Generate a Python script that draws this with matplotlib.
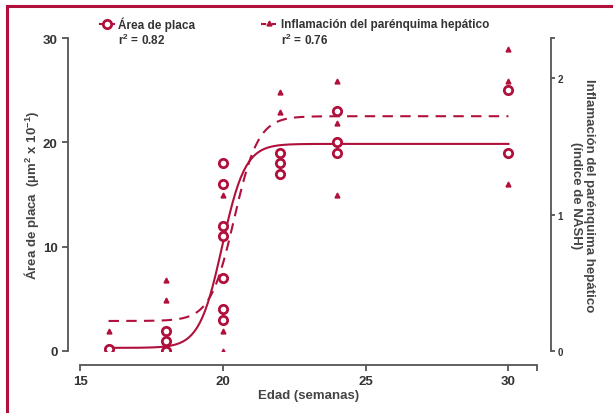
import matplotlib.pyplot as plt
import numpy as np
from matplotlib.lines import Line2D

# data
area_x = [16, 18, 18, 18, 20, 20, 20, 20, 20, 20, 20, 22, 22, 22, 24, 24, 24, 30, 30]
area_y = [0.2, 1.9, 1.0, 0.0, 18, 16, 12, 11, 7, 4, 3, 19, 18, 17, 23, 20, 19, 25, 19]

nash_x = [16, 18, 18, 20, 20, 20, 22, 22, 24, 24, 24, 30, 30, 30]
nash_y = [0.15, 0.52, 0.37, 1.14, 0.15, 0.0, 1.90, 1.75, 1.98, 1.67, 1.14, 2.21, 1.98, 1.22]

# sigmoid fits: bottom, top, x50, slope
area_fit = [0.3, 19.85, 19.98, 0.40]
nash_fit = [0.22, 1.72, 20.4, 0.42]

def sigmoid(x, bottom, top, x50, s):
    return bottom + (top - bottom) / (1 + np.exp((x50 - x) / s))

red = '#B0103C'
grey = '#555555'

plt.rcParams['font.family'] = 'Liberation Sans'
plt.rcParams['font.weight'] = 'bold'
plt.rcParams['axes.labelweight'] = 'bold'
plt.rcParams['mathtext.fontset'] = 'custom'
plt.rcParams['mathtext.rm'] = 'Liberation Sans:bold'
plt.rcParams['mathtext.it'] = 'Liberation Sans:bold'
plt.rcParams['mathtext.default'] = 'rm'

fig = plt.figure(figsize=(6.13, 4.14), dpi=100)
ax = fig.add_axes([80/613, 62/414, 457/613, 313/414])
ax2 = ax.twinx()

xs = np.linspace(16, 30, 300)
ax.plot(xs, sigmoid(xs, *area_fit), color=red, lw=1.5, zorder=3)
ax.plot(area_x, area_y, 'o', ms=6, mfc='white', mec=red, mew=2.0, zorder=4)

ax2.plot(xs, sigmoid(xs, *nash_fit), color=red, lw=1.5, ls=(0, (5, 3.5)))
ax2.plot(nash_x, nash_y, '^', ms=3.5, color=red, mec=red)

ax.set_xlim(15, 31)
ax.set_ylim(0, 30)
ax2.set_ylim(0, 313/136.5)

for a in (ax, ax2):
    for sp in a.spines.values():
        sp.set_color(grey)
        sp.set_linewidth(1.3)
    a.spines['top'].set_visible(False)
ax.spines['right'].set_visible(False)
ax2.spines['left'].set_visible(False)
ax2.spines['bottom'].set_visible(False)
ax.spines['left'].set_position(('outward', 8.6))
ax.spines['bottom'].set_position(('outward', 10))
ax2.spines['right'].set_position(('outward', 10))

ax.set_xticks([15, 20, 25, 30])
ax.set_xticks([31], minor=True)
ax.set_yticks([0, 10, 20, 30])
ax2.set_yticks([0, 1, 2])
ax2.set_yticks([313/136.5], minor=True)
ax.tick_params(axis='both', which='both', color=grey, width=1.3, length=4,
               labelsize=9.5, labelcolor='#333333')
ax.tick_params(axis='x', pad=3)
ax2.tick_params(axis='y', which='both', color=grey, width=1.3, length=3,
                labelsize=7, labelcolor='#333333', pad=2)

ax.set_xlabel('Edad (semanas)', fontsize=9.5, color='#444444', labelpad=2)
ax.set_ylabel('Área de placa  (µm$^2$ x 10$^{-1}$)', fontsize=9.5,
              color='#444444', labelpad=1.5)
ax2.set_ylabel('Inflamación del parénquima hepático\n(índice de NASH)',
               fontsize=9.5, color='#444444', rotation=270, labelpad=23,
               linespacing=1.1)

# legend drawn by hand
W, H = 613, 414
fig.add_artist(Line2D([100/W, 114/W], [1-25/H, 1-25/H], color=red, lw=1.5))
fig.add_artist(Line2D([107/W], [1-25/H], marker='o', ms=6, mfc='white',
                      mec=red, mew=2.0))
fig.text(118/W, 1-25/H, 'Área de placa', fontsize=8.5, color='#333333',
         va='center', ha='left')
fig.text(118/W, 1-40/H, 'r$^2$ = 0.82', fontsize=8.5, color='#333333',
         va='center', ha='left')
fig.add_artist(Line2D([261/W, 276/W], [1-25/H, 1-25/H], color=red, lw=1.5,
                      ls=(0, (2.5, 2.5))))
fig.add_artist(Line2D([268.5/W], [1-24/H], marker='^', ms=3.5, color=red))
fig.text(281/W, 1-25/H, 'Inflamación del parénquima hepático', fontsize=8.5,
         color='#333333', va='center', ha='left')
fig.text(281/W, 1-40/H, 'r$^2$ = 0.76', fontsize=8.5, color='#333333',
         va='center', ha='left')

# frame lines at top and left
fig.add_artist(Line2D([7/W, 1], [1-7/H, 1-7/H], color=red, lw=2.2))
fig.add_artist(Line2D([7/W, 7/W], [0, 1-7/H], color=red, lw=2.2))

fig.savefig('out.png', dpi=100)
